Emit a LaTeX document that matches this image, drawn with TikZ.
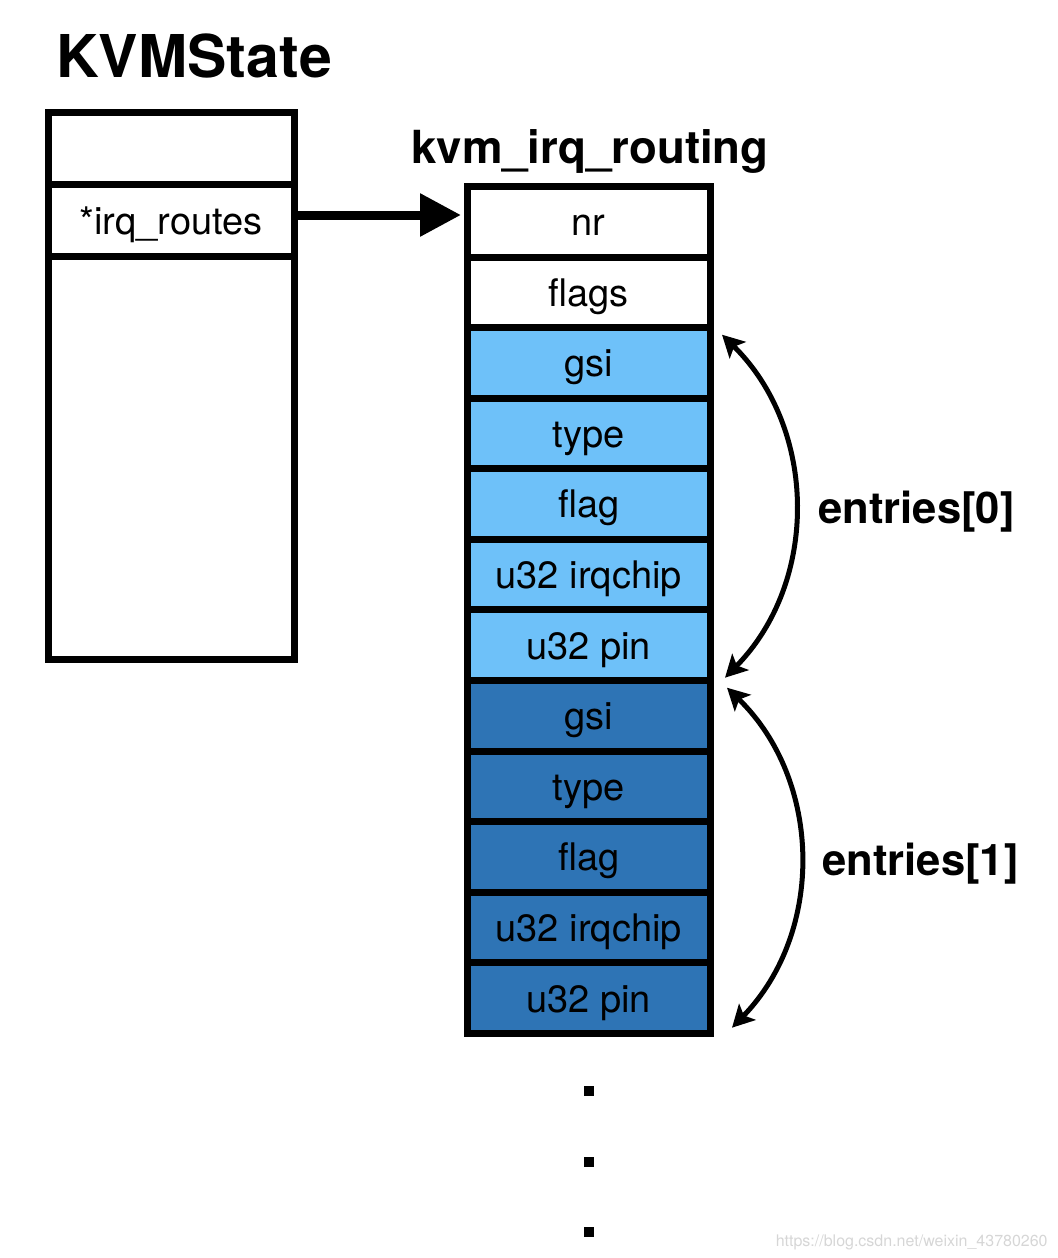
\documentclass[tikz,border=0pt]{standalone}
\usepackage{fontspec}
\setmainfont{TeX Gyre Heros}
\usetikzlibrary{arrows.meta,positioning}
\definecolor{lightentry}{HTML}{6EC1F9}
\definecolor{darkentry}{HTML}{2E74B5}
\definecolor{watermark}{HTML}{D6D6D6}

\tikzset{
  cell/.style={draw, line width=3.5pt, outer sep=0pt, inner sep=0pt,
    minimum width=121.75pt, minimum height=35.3pt, text height=14pt, text depth=0pt,
    font=\fontsize{19}{22}\selectfont},
  kvmcell/.style={cell, minimum width=123pt, minimum height=36pt},
  ptr/.style={-{Triangle[length=20.5pt,width=20.5pt]}, line width=4.5pt},
  entryspan/.style={{Stealth[length=11pt,width=11.5pt,inset=2.5pt]}-{Stealth[length=11pt,width=11.5pt,inset=2.5pt]}, line width=2.5pt},
  lbl/.style={font=\bfseries\fontsize{21.8}{25}\selectfont, inner sep=0pt},
}

\begin{document}
\begin{tikzpicture}[x=0.5pt, y=-0.5pt]
    \useasboundingbox (0,0) rectangle (1058,1258);

    % Titles
    \node[font=\bfseries\fontsize{29.5}{33}\selectfont, inner sep=0pt, anchor=base west] (kvmtitle) at (56,77) {KVMState};
    \node[font=\bfseries\fontsize{22.8}{26}\selectfont, inner sep=0pt, anchor=base] (routingtitle) at (590,163) {kvm\_irq\_routing};

    % KVMState struct - left side
    \node[kvmcell] (ks0) at (171,148) {};
    \node[kvmcell, below=0pt of ks0] (routes) {*irq\_routes};
    \node[kvmcell, below=0pt of routes, minimum height=201.5pt] (ksrest) {};

    % kvm_irq_routing struct - right side
    \node[cell] (nr) at (588.75,221.8) {nr};
    \node[cell, below=0pt of nr] (flags) {flags};

    % entries[0]
    \foreach \lab [count=\i] in {gsi,type,flag,u32 irqchip,u32 pin} {
        \node[cell, fill=lightentry] (ea\i) at (588.75, {292.1+70.6*\i}) {\lab};
    }

    % entries[1]
    \foreach \lab [count=\i] in {gsi,type,flag,u32 irqchip,u32 pin} {
        \node[cell, fill=darkentry] (eb\i) at (588.75, {645.1+70.6*\i}) {\lab};
    }

    % Pointer
    \draw[ptr, shorten >=3pt] ([xshift=1.5pt,yshift=2.5pt]routes.east) -- ([yshift=2.5pt]routes.east -| nr.west);

    % Entry spans
    \coordinate (e0a) at ([shift={(11.5,7.3)}]ea1.north east);
    \coordinate (e0b) at ([shift={(14.5,-2.7)}]ea5.south east);
    \coordinate (e1a) at ([shift={(16.5,7.3)}]eb1.north east);
    \coordinate (e1b) at ([shift={(21.5,-5.7)}]eb5.south east);
    \draw[entryspan] (e0a) to[bend left=45] (e0b);
    \draw[entryspan] (e1a) to[bend left=45] (e1b);
    \node[lbl, right=53.75pt of ea3, yshift=-4pt] (e0lab) {entries[0]};
    \node[lbl, right=55.75pt of eb3, yshift=-3.5pt] (e1lab) {entries[1]};

    % More entries
    \foreach \y in {1090.5,1161.5,1231.5} {
        \fill (584,\y-5) rectangle (594,\y+5);
    }

    % Watermark
    \node[font=\fontsize{8}{10}\selectfont, color=watermark, inner sep=0pt, anchor=base east] (wm) at (1048,1246) {https://blog.csdn.net/weixin\_43780260};
\end{tikzpicture}
\end{document}
